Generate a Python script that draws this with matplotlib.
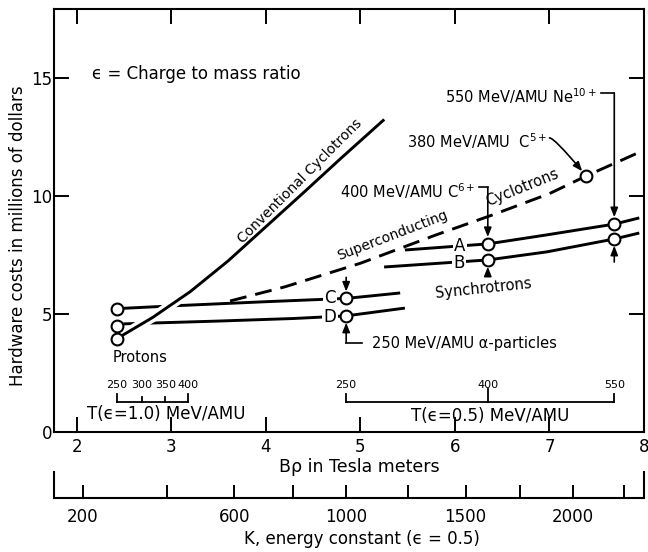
import numpy as np
import matplotlib
matplotlib.use("Agg")
import matplotlib.pyplot as plt
import matplotlib.patheffects as pe

plt.rcParams['font.family'] = ['DejaVu Sans']
plt.rcParams['mathtext.fontset'] = 'dejavusans'

# ---------------- data ----------------
# Conventional cyclotrons (solid curve)
conv_bp   = [2.42, 2.80, 3.20, 3.60, 4.00, 4.40, 4.80, 5.24]
conv_cost = [3.95, 4.85, 5.95, 7.25, 8.70, 10.15, 11.62, 13.20]

# Superconducting cyclotrons (dashed curve)
sc_bp   = [3.62, 4.20, 5.00, 5.80, 6.40, 7.00, 7.39, 7.95]
sc_cost = [5.55, 6.15, 7.15, 8.35, 9.20, 10.10, 10.85, 11.85]

# Synchrotron lines A, B, C, D
syn_a_bp   = [5.47, 6.35, 6.97, 7.69, 7.95]
syn_a_cost = [7.71, 7.97, 8.35, 8.81, 9.07]
syn_b_bp   = [5.25, 6.35, 6.97, 7.69, 7.95]
syn_b_cost = [6.99, 7.29, 7.63, 8.18, 8.43]
syn_c_bp   = [2.49, 3.10, 4.00, 4.85, 5.42]
syn_c_cost = [5.24, 5.36, 5.52, 5.66, 5.89]
syn_d_bp   = [2.49, 3.50, 4.30, 4.85, 5.47]
syn_d_cost = [4.58, 4.70, 4.81, 4.92, 5.25]

# Marked design points (kinetic energy per nucleon, charge/mass ratio, cost)
proton_T, proton_eps = 250, 1.0
proton_costs = [5.21, 4.49, 3.94]
alpha_T, alpha_eps = 250, 0.5
alpha_costs = [5.66, 4.92]      # C, D
c6_T, c6_eps = 400, 0.5
c6_costs = [7.97, 7.29]         # A, B
ne_T, ne_eps = 550, 0.5
ne_costs = [8.81, 8.18]         # A, B
c5_T, c5_eps = 380, 5 / 12
c5_cost = 10.85

# Scales
t_eps1 = [250, 300, 350, 400]
t_eps05 = [250, 400, 550]
k_major = [200, 600, 1000, 1500, 2000]
k_minor = [400, 800, 1250, 1750, 2250]
xticks = [2, 3, 4, 5, 6, 7, 8]
yticks = [0, 5, 10, 15]

M_AMU = 931.494
C_LIGHT = 299.792


def brho(T, eps):
    T = np.asarray(T, float)
    p = np.sqrt(T ** 2 + 2 * T * M_AMU)
    return p / (eps * C_LIGHT)


# ---------------- figure ----------------
W, H = 648, 552
fig = plt.figure(figsize=(W / 100, H / 100), dpi=100)


def fx(px):
    return px / W


def fy(py):
    return 1 - py / H


ax = fig.add_axes([fx(54), fy(432), fx(644) - fx(54), fy(9) - fy(432)])
ax.set_xlim(1.757, 8.0)
ax.set_ylim(0, 17.92)
for s in ax.spines.values():
    s.set_linewidth(1.5)
ax.set_xticks(xticks)
ax.set_yticks(yticks)
ax.tick_params(direction='in', length=10.5, width=1.4, top=True, right=True,
               labelsize=12)
ax.tick_params(axis='x', pad=4.5)
ax.tick_params(axis='y', pad=1.5)

LW = 2.1
K = 'black'
R = 0.29  # circle radius in cost units

for bp, cost in [(syn_a_bp, syn_a_cost), (syn_b_bp, syn_b_cost),
                 (syn_c_bp, syn_c_cost), (syn_d_bp, syn_d_cost)]:
    ax.plot(bp, cost, color=K, lw=LW, solid_capstyle='butt', zorder=2)

ax.plot(sc_bp, sc_cost, color=K, lw=LW, dashes=(5.8, 3.1), zorder=2)
ax.plot(conv_bp, conv_cost, color=K, lw=LW, zorder=3,
        path_effects=[pe.Stroke(linewidth=7, foreground='white'), pe.Normal()])

mk = dict(marker='o', ls='none', ms=8.5, mfc='white', mec=K, mew=1.5, zorder=6)
ax.plot([brho(proton_T, proton_eps)] * 3, proton_costs, **mk)
x_alpha = float(brho(alpha_T, alpha_eps))
x_c6 = float(brho(c6_T, c6_eps))
x_ne = float(brho(ne_T, ne_eps))
x_c5 = float(brho(c5_T, c5_eps))
ax.plot([x_alpha] * 2, alpha_costs, **mk)
ax.plot([x_c6] * 2, c6_costs, **mk)
ax.plot([x_ne] * 2, ne_costs, **mk)
ax.plot([x_c5], [c5_cost], **mk)

# line letters with white gaps
lab_box = dict(fc='white', ec='none', pad=1.0)
for txt, x, y in [('A', 6.05, 7.88), ('B', 6.04, 7.16),
                  ('C', 4.68, 5.66), ('D', 4.68, 4.88)]:
    ax.text(x, y, txt, ha='center', va='center', fontsize=12, bbox=lab_box,
            zorder=4)


def arrow(x0, y0, x1, y1, **kw):
    props = dict(arrowstyle='-|>,head_length=0.55,head_width=0.22', color=K,
                 lw=1.2, shrinkA=0, shrinkB=0)
    props.update(kw)
    ax.annotate('', xy=(x1, y1), xytext=(x0, y0), arrowprops=props, zorder=5)


lk = dict(color=K, lw=1.2, zorder=5)
# alpha particles
arrow(x_alpha, 6.55, x_alpha, alpha_costs[0] + R)
arrow(x_alpha, 3.77, x_alpha, alpha_costs[1] - R)
ax.plot([x_alpha, 5.02], [3.77, 3.77], **lk)
ax.text(5.12, 3.77, '250 MeV/AMU \u03b1-particles', ha='left', va='center',
        fontsize=10.5)

# C6+
ax.text(6.22, 10.19, '400 MeV/AMU C$^{6+}$', ha='right', va='center',
        fontsize=10.5)
ax.plot([6.25, x_c6], [10.36, 10.36], **lk)
arrow(x_c6, 10.36, x_c6, c6_costs[0] + R)
arrow(x_c6, 6.72, x_c6, c6_costs[1] - R)

# Ne10+
ax.text(7.50, 14.24, '550 MeV/AMU Ne$^{10+}$', ha='right', va='center',
        fontsize=10.5)
ax.plot([7.55, x_ne], [14.36, 14.36], **lk)
arrow(x_ne, 14.36, x_ne, ne_costs[0] + R)
arrow(x_ne, 7.20, x_ne, ne_costs[1] - R)

# C5+
ax.text(6.97, 12.33, '380 MeV/AMU  C$^{5+}$', ha='right', va='center',
        fontsize=10.5)
arrow(7.0, 12.46, x_c5 - 0.045, c5_cost + 0.2,
      connectionstyle='angle3,angleA=0,angleB=-50')

# curve labels
ax.text(2.16, 15.17, '\u03f5 = Charge to mass ratio', ha='left', va='center',
        fontsize=12)
ax.text(4.36, 10.64, 'Conventional Cyclotrons', rotation=45, ha='center',
        va='center', fontsize=10, rotation_mode='anchor')
ax.text(5.34, 8.31, 'Superconducting', rotation=21, ha='center', va='center',
        fontsize=10, rotation_mode='anchor')
ax.text(6.71, 10.34, 'Cyclotrons', rotation=22, ha='center', va='center',
        fontsize=10.5, rotation_mode='anchor')
ax.text(6.30, 6.10, 'Synchrotrons', rotation=6, ha='center', va='center',
        fontsize=10.5, rotation_mode='anchor')
ax.text(2.67, 3.14, 'Protons', ha='center', va='center', fontsize=10.5)

# T scales
y0 = 1.29
xs1 = brho(t_eps1, 1.0)
ax.plot([xs1[0], xs1[-1]], [y0, y0], color=K, lw=1.3)
for i, (x, t) in enumerate(zip(xs1, t_eps1)):
    h = 0.33 if i in (0, len(xs1) - 1) else 0.2
    ax.plot([x, x], [y0, y0 + h], color=K, lw=1.3)
    ax.text(x, 2.0, str(t), ha='center', va='center', fontsize=8)
ax.text(2.95, 0.76, 'T(\u03f5=1.0) MeV/AMU', ha='center', va='center',
        fontsize=12)

xs2 = brho(t_eps05, 0.5)
ax.plot([xs2[0], xs2[-1]], [y0, y0], color=K, lw=1.3)
for i, (x, t) in enumerate(zip(xs2, t_eps05)):
    h = 0.55 if i == 1 else 0.34
    ax.plot([x, x], [y0, y0 + h], color=K, lw=1.3)
    ax.text(x, 2.0, str(t), ha='center', va='center', fontsize=8)
ax.text(6.37, 0.68, 'T(\u03f5=0.5) MeV/AMU', ha='center', va='center',
        fontsize=12)

# K axis
ax2 = fig.add_axes([fx(54), fy(498), fx(644) - fx(54), fy(472) - fy(498)])
ax2.set_xlim(ax.get_xlim())
ax2.set_ylim(0, 1)
ax2.patch.set_alpha(0)
ax2.spines['top'].set_visible(False)
for s in ax2.spines.values():
    s.set_linewidth(1.5)
ax2.set_yticks([])
ax2.set_xticks(brho(np.array(k_major) * 0.25, 0.5),
               labels=[str(k) for k in k_major])
ax2.set_xticks(brho(np.array(k_minor) * 0.25, 0.5), minor=True)
ax2.tick_params(axis='x', which='both', direction='in', length=9.4, width=1.4,
                pad=7, labelsize=12)

fig.text(fx(18), fy(236), 'Hardware costs in millions of dollars',
         rotation=90, ha='center', va='center', fontsize=12)
fig.text(fx(359), fy(467), 'B\u03c1 in Tesla meters', ha='center',
         va='center', fontsize=12.5)
fig.text(fx(362), fy(539), 'K, energy constant (\u03f5 = 0.5)', ha='center',
         va='center', fontsize=12)

fig.savefig('out.png', dpi=100)
